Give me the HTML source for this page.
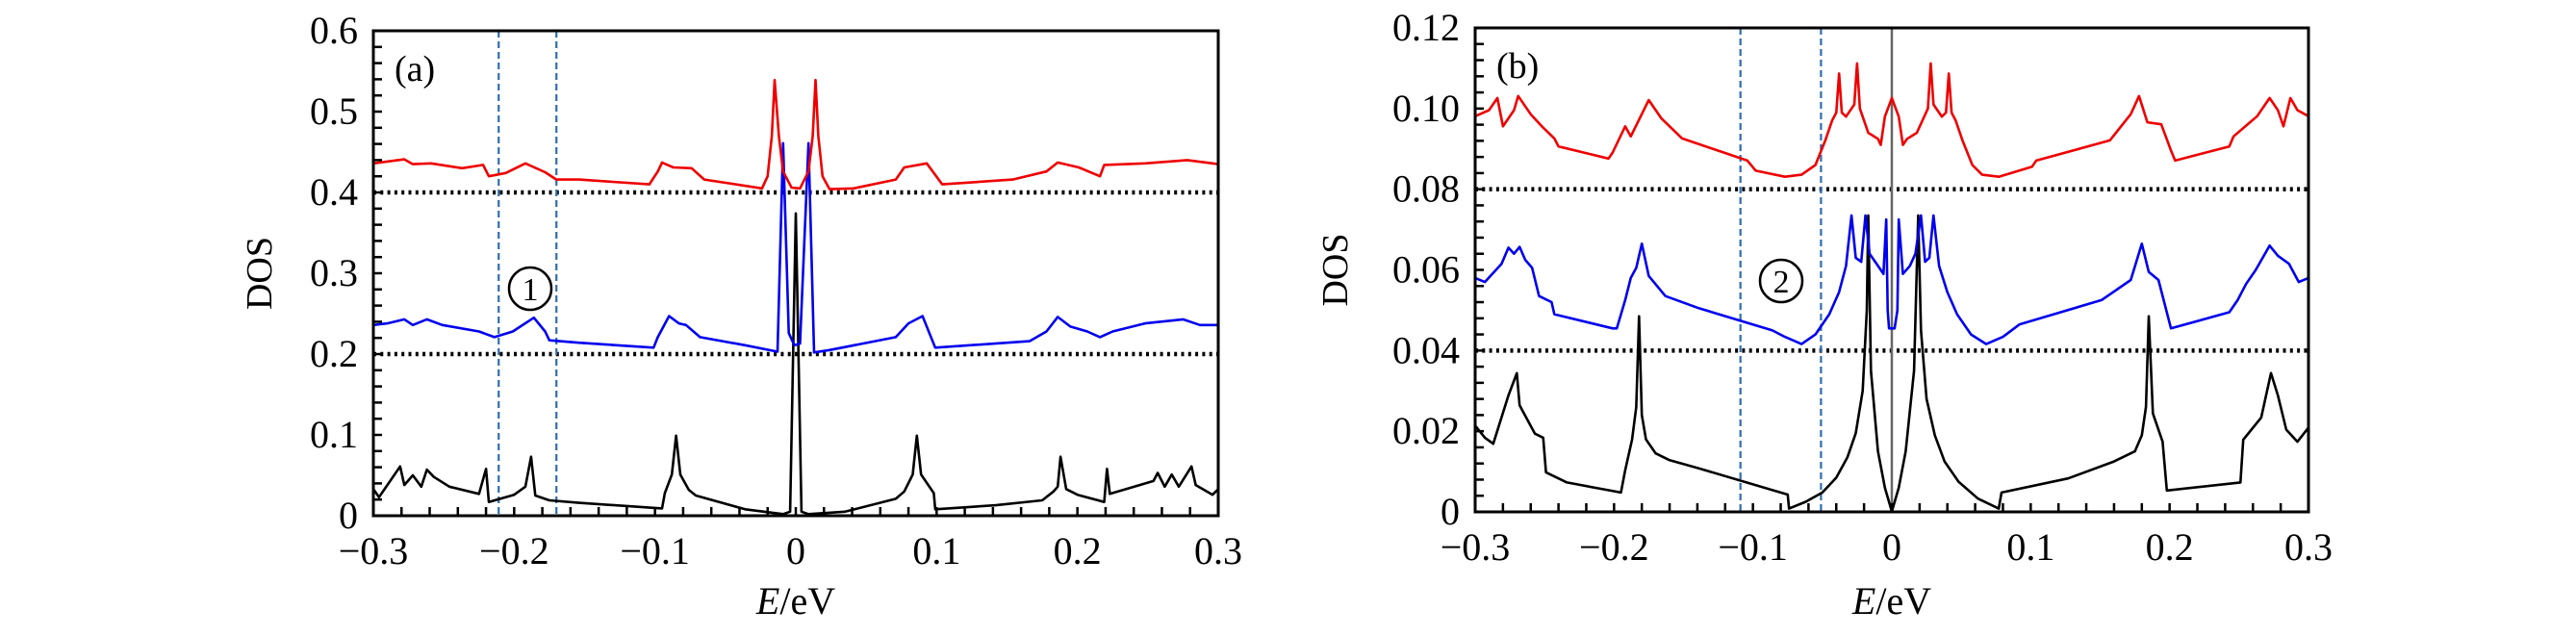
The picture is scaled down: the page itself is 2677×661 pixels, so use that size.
<!DOCTYPE html>
<html><head><meta charset="utf-8"><style>
html,body{margin:0;padding:0;background:#fff;}
svg{display:block;}
text{font-family:"Liberation Serif",serif;fill:#000;}
</style></head><body>
<svg id="fig" width="2677" height="661" viewBox="0 0 2677 661" xmlns="http://www.w3.org/2000/svg"></svg>
<script>
// ---- Panel (a) data ----
const aBlackX=[-0.300,-0.296,-0.281,-0.278,-0.272,-0.266,-0.262,-0.257,-0.246,-0.225,-0.220,-0.218,-0.200,-0.192,-0.188,-0.185,-0.175,-0.154,-0.095,-0.093,-0.088,-0.085,-0.082,-0.076,-0.071,-0.036,-0.009,-0.004,0.000,0.004,0.009,0.035,0.071,0.077,0.083,0.086,0.089,0.098,0.099,0.142,0.175,0.183,0.186,0.188,0.192,0.200,0.219,0.221,0.223,0.254,0.257,0.262,0.267,0.272,0.281,0.284,0.296,0.300];
const aBlackY=[0.033,0.023,0.061,0.038,0.050,0.036,0.057,0.048,0.036,0.027,0.058,0.017,0.026,0.036,0.073,0.025,0.019,0.016,0.009,0.028,0.051,0.099,0.051,0.032,0.025,0.008,0.002,0.005,0.374,0.005,0.002,0.005,0.021,0.030,0.051,0.099,0.051,0.028,0.008,0.013,0.019,0.030,0.036,0.073,0.033,0.026,0.017,0.058,0.027,0.043,0.053,0.036,0.051,0.036,0.061,0.038,0.026,0.033];
const aBlueX=[-0.300,-0.290,-0.278,-0.272,-0.262,-0.251,-0.225,-0.214,-0.201,-0.186,-0.178,-0.175,-0.154,-0.101,-0.098,-0.090,-0.083,-0.078,-0.068,-0.036,-0.013,-0.009,-0.005,-0.001,0.003,0.009,0.013,0.024,0.071,0.080,0.090,0.099,0.166,0.178,0.186,0.195,0.207,0.216,0.225,0.248,0.275,0.287,0.300];
const aBlueY=[0.236,0.238,0.243,0.236,0.243,0.236,0.228,0.221,0.228,0.245,0.228,0.217,0.214,0.208,0.221,0.247,0.238,0.236,0.221,0.211,0.203,0.461,0.226,0.211,0.213,0.461,0.202,0.205,0.221,0.238,0.247,0.208,0.216,0.228,0.246,0.234,0.228,0.221,0.228,0.238,0.243,0.236,0.236];
const aRedX=[-0.300,-0.278,-0.272,-0.259,-0.237,-0.222,-0.218,-0.206,-0.192,-0.178,-0.170,-0.154,-0.104,-0.098,-0.095,-0.087,-0.074,-0.065,-0.024,-0.020,-0.017,-0.015,-0.012,-0.009,-0.003,0.003,0.009,0.012,0.014,0.016,0.019,0.024,0.041,0.071,0.077,0.093,0.104,0.154,0.178,0.186,0.201,0.216,0.219,0.248,0.278,0.300];
const aRedY=[0.436,0.441,0.435,0.436,0.430,0.434,0.420,0.424,0.436,0.425,0.416,0.416,0.410,0.426,0.437,0.431,0.430,0.416,0.405,0.420,0.470,0.539,0.470,0.426,0.406,0.405,0.426,0.470,0.539,0.470,0.420,0.404,0.405,0.416,0.431,0.436,0.410,0.416,0.426,0.437,0.431,0.420,0.434,0.436,0.440,0.435];
const aYTicks=[0,0.1,0.2,0.3,0.4,0.5,0.6];
const aYLabels=["0","0.1","0.2","0.3","0.4","0.5","0.6"];
const aRefLines=[0.2,0.4];
const aMarkers=[-0.211,-0.17];
// ---- Panel (b) data ----
const bBlackX=[-0.300,-0.293,-0.287,-0.276,-0.270,-0.268,-0.257,-0.251,-0.249,-0.234,-0.195,-0.192,-0.187,-0.184,-0.182,-0.180,-0.177,-0.170,-0.160,-0.139,-0.080,-0.075,-0.074,-0.062,-0.050,-0.040,-0.032,-0.026,-0.021,-0.018,-0.017,-0.015,-0.010,-0.005,0.000,0.005,0.010,0.016,0.019,0.021,0.025,0.031,0.038,0.048,0.062,0.077,0.079,0.127,0.160,0.175,0.180,0.183,0.185,0.188,0.195,0.198,0.251,0.253,0.266,0.273,0.278,0.284,0.292,0.300];
const bBlackY=[0.0214,0.0184,0.0169,0.0289,0.0344,0.0264,0.0194,0.0184,0.0098,0.0073,0.0048,0.0103,0.0180,0.0260,0.0485,0.0240,0.0180,0.0145,0.0128,0.0108,0.0048,0.0043,0.0008,0.0025,0.0048,0.0085,0.0135,0.0195,0.0300,0.0500,0.0735,0.0350,0.0150,0.0060,0.0001,0.0060,0.0150,0.0350,0.0735,0.0450,0.0280,0.0190,0.0125,0.0075,0.0033,0.0008,0.0048,0.0083,0.0125,0.0150,0.0190,0.0260,0.0485,0.0244,0.0174,0.0053,0.0073,0.0179,0.0234,0.0344,0.0289,0.0204,0.0174,0.0209];
const bBlueX=[-0.300,-0.293,-0.281,-0.276,-0.272,-0.268,-0.264,-0.259,-0.254,-0.245,-0.243,-0.201,-0.198,-0.192,-0.188,-0.184,-0.180,-0.175,-0.163,-0.139,-0.086,-0.077,-0.065,-0.055,-0.045,-0.038,-0.033,-0.029,-0.026,-0.022,-0.019,-0.016,-0.010,-0.006,-0.004,-0.003,-0.002,0.002,0.004,0.005,0.008,0.013,0.017,0.021,0.024,0.027,0.030,0.034,0.040,0.047,0.057,0.068,0.080,0.092,0.151,0.172,0.180,0.185,0.192,0.201,0.243,0.249,0.255,0.262,0.272,0.278,0.286,0.293,0.300];
const bBlueY=[0.0580,0.0570,0.0615,0.0655,0.0640,0.0657,0.0625,0.0605,0.0535,0.0520,0.0490,0.0455,0.0455,0.0525,0.0580,0.0605,0.0665,0.0585,0.0535,0.0505,0.0450,0.0434,0.0416,0.0440,0.0490,0.0545,0.0610,0.0735,0.0630,0.0620,0.0735,0.0640,0.0610,0.0590,0.0725,0.0500,0.0455,0.0455,0.0500,0.0725,0.0590,0.0610,0.0640,0.0735,0.0620,0.0630,0.0735,0.0610,0.0545,0.0490,0.0440,0.0416,0.0434,0.0465,0.0525,0.0575,0.0665,0.0595,0.0575,0.0455,0.0495,0.0525,0.0565,0.0600,0.0660,0.0635,0.0615,0.0570,0.0580];
const bRedX=[-0.300,-0.290,-0.284,-0.280,-0.272,-0.269,-0.260,-0.252,-0.243,-0.240,-0.204,-0.201,-0.192,-0.188,-0.175,-0.166,-0.151,-0.104,-0.098,-0.077,-0.065,-0.055,-0.048,-0.043,-0.040,-0.038,-0.036,-0.033,-0.027,-0.025,-0.023,-0.017,-0.010,-0.008,-0.005,0.000,0.005,0.008,0.011,0.018,0.026,0.028,0.030,0.036,0.039,0.041,0.043,0.046,0.051,0.058,0.065,0.077,0.101,0.104,0.157,0.172,0.178,0.184,0.194,0.201,0.204,0.243,0.246,0.263,0.272,0.278,0.282,0.287,0.292,0.300];
const bRedY=[0.0981,0.0996,0.1026,0.0956,0.0996,0.1031,0.0986,0.0956,0.0926,0.0906,0.0876,0.0891,0.0956,0.0931,0.1021,0.0976,0.0926,0.0871,0.0846,0.0831,0.0836,0.0860,0.0920,0.0970,0.0990,0.1087,0.0990,0.0980,0.1010,0.1112,0.1000,0.0940,0.0925,0.0910,0.0980,0.1026,0.0980,0.0910,0.0925,0.0940,0.1000,0.1112,0.1010,0.0980,0.0990,0.1087,0.0990,0.0970,0.0920,0.0860,0.0836,0.0831,0.0856,0.0871,0.0921,0.0986,0.1031,0.0966,0.0961,0.0896,0.0871,0.0906,0.0931,0.0981,0.1026,0.0996,0.0956,0.1026,0.0996,0.0981];
const bYTicks=[0,0.02,0.04,0.06,0.08,0.10,0.12];
const bYLabels=["0","0.02","0.04","0.06","0.08","0.10","0.12"];
const bRefLines=[0.04,0.08];
const bMarkers=[-0.109,-0.051];
const xTicks=[-0.3,-0.2,-0.1,0,0.1,0.2,0.3];
const xLabels=["\u22120.3","\u22120.2","\u22120.1","0","0.1","0.2","0.3"];

const NS="http://www.w3.org/2000/svg";
const svg=document.getElementById('fig');
function mk(tag,attrs,parent){const e=document.createElementNS(NS,tag);for(const k in attrs)e.setAttribute(k,attrs[k]);(parent||svg).appendChild(e);return e;}

function panel(cfg){
  const g=mk('g',{});
  
  
  const L=cfg.L,R=cfg.R,T=cfg.T,B=cfg.B;
  const sx=v=>L+(v+0.3)/0.6*(R-L);
  const sy=v=>B-v/cfg.ymax*(B-T);
  cfg.ref.forEach(v=>{
    const l=mk('line',{x1:L,x2:R,y1:sy(v),y2:sy(v),stroke:'#000','stroke-width':4.5,'stroke-dasharray':'3 4.3'},g);
    
    
  });
  if(cfg.zeroLine){
    const z=mk('line',{x1:sx(0),x2:sx(0),y1:T,y2:B,stroke:'#666','stroke-width':2.5},g);
    
    
  }
  cfg.markers.forEach((v,i)=>{
    const l=mk('line',{x1:sx(v),x2:sx(v),y1:T,y2:B,stroke:'#2f6db0','stroke-width':2.2,'stroke-dasharray':'7 4'},g);
    
    
  });
  cfg.series.forEach(s=>{
    let d='';
    for(let i=0;i<s.x.length;i++)d+=(i?'L':'M')+sx(s.x[i]).toFixed(1)+' '+sy(s.y[i]).toFixed(1);
    const p=mk('path',{d:d,fill:'none',stroke:s.c,'stroke-width':2.6,'stroke-linejoin':'round'},g);
    
    
  });
  for(let k=0;k<=30;k++){
    const x=sx(-0.3+k*0.02);
    const t=mk('line',{x1:x,x2:x,y1:B,y2:B-9,stroke:'#000','stroke-width':2.5},g);
    
    
  }
  const nm=cfg.minorN;
  for(let k=1;k<nm;k++){
    const y=B-k/nm*(B-T);
    const t=mk('line',{x1:L,x2:L+9,y1:y,y2:y,stroke:'#000','stroke-width':2.5},g);
    
    
  }
  const fr=mk('rect',{x:L,y:T,width:R-L,height:B-T,fill:'none',stroke:'#000','stroke-width':3},g);
  
  
  xTicks.forEach((v,i)=>{
    const t=mk('text',{x:sx(v),y:B+50,'text-anchor':'middle','font-size':40},g);
    t.textContent=xLabels[i];
    
    
  });
  cfg.yt.forEach((v,i)=>{
    const t=mk('text',{x:L-16,y:sy(v)+13,'text-anchor':'end','font-size':40},g);
    t.textContent=cfg.yl[i];
    
    
  });
  const xt=mk('text',{x:(L+R)/2,y:638,'text-anchor':'middle','font-size':40},g);
  xt.innerHTML='<tspan font-style="italic">E</tspan>/eV';
  
  
  const yt=mk('text',{x:cfg.ylx,y:(T+B)/2,'text-anchor':'middle','font-size':38,transform:'rotate(-90 '+cfg.ylx+' '+(T+B)/2+')'},g);
  yt.textContent='DOS';
  
  
  const pl=mk('text',{x:L+22,y:T+52,'font-size':38},g);
  pl.textContent=cfg.label;
  
  
  const c=mk('circle',{cx:cfg.cx,cy:cfg.cy,r:22,fill:'none',stroke:'#000','stroke-width':2.5},g);
  
  
  const ct=mk('text',{x:cfg.cx,y:cfg.cy+12,'text-anchor':'middle','font-size':34},g);
  ct.textContent=cfg.circ;
  
  
}
panel({name:'panel-a',L:388,R:1266,T:32,B:536,ymax:0.6,minorN:30,ref:aRefLines,markers:aMarkers,zeroLine:false,
  series:[{x:aBlackX,y:aBlackY,c:'#000',n:'series-black-a'},{x:aBlueX,y:aBlueY,c:'#0000ee',n:'series-blue-a'},{x:aRedX,y:aRedY,c:'#ee0000',n:'series-red-a'}],
  yt:aYTicks,yl:aYLabels,ylx:282,label:'(a)',cx:551,cy:300,circ:'1'});
panel({name:'panel-b',L:1533,R:2399,T:29,B:532,ymax:0.12,minorN:30,ref:bRefLines,markers:bMarkers,zeroLine:true,
  series:[{x:bBlackX,y:bBlackY,c:'#000',n:'series-black-b'},{x:bBlueX,y:bBlueY,c:'#0000ee',n:'series-blue-b'},{x:bRedX,y:bRedY,c:'#ee0000',n:'series-red-b'}],
  yt:bYTicks,yl:bYLabels,ylx:1400,label:'(b)',cx:1851,cy:292,circ:'2'});
</script>
</body></html>
